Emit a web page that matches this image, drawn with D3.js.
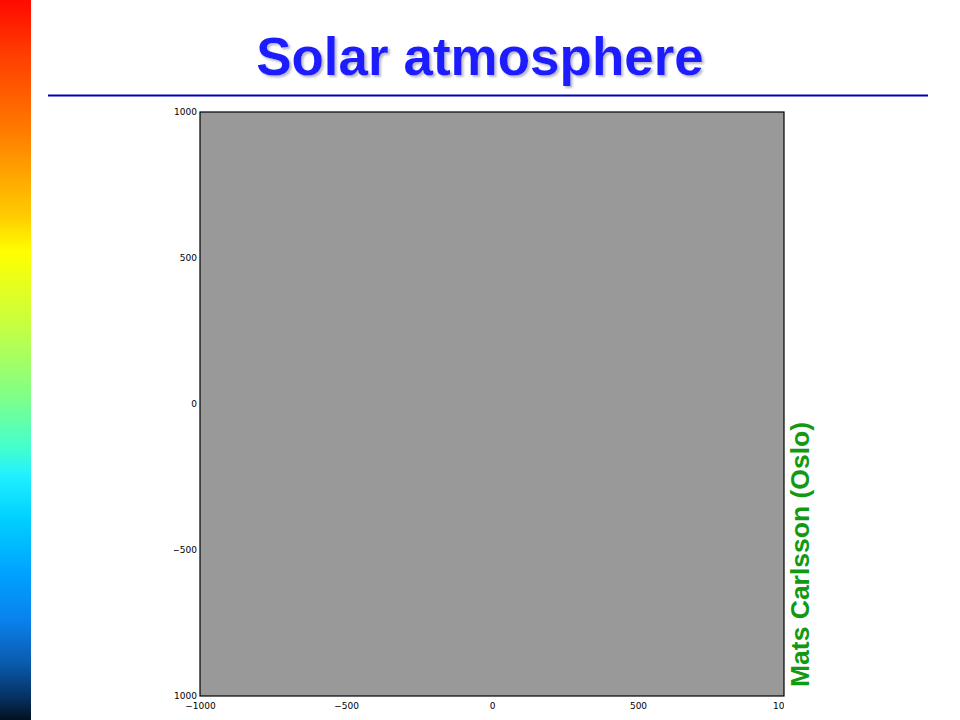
<!DOCTYPE html>
<html><head><meta charset="utf-8">
<script src="https://cdn.jsdelivr.net/npm/d3@7"></script>
<style>body{margin:0;background:#fff}svg{display:block}</style>
</head><body><svg id="c" width="960" height="720"></svg>
<script>
const title = "Solar atmosphere";
const credit = "Mats Carlsson (Oslo)";
const xDomain = [-1000, 1000];
const yDomain = [-1000, 1000];
const xTicks = [-1000, -500, 0, 500, 1000];
const yTicks = [-1000, -500, 0, 500, 1000];
const barStops = [0, 0.08, 0.18, 0.3, 0.35, 0.45, 0.55, 0.62, 0.66, 0.72, 0.8, 0.86, 0.92, 0.97, 1];
const barColors = ["#ff0a00","#ff4000","#ff7a00","#ffcc00","#ffff00","#c8ff40","#80ff88","#45ffcc","#22f0ff","#00d0ff","#00a0ff","#0a82ee","#0a5cae","#063060","#041020"];

const svg = d3.select("#c");
const defs = svg.append("defs");
const grad = defs.append("linearGradient").attr("id","bar").attr("x1",0).attr("y1",0).attr("x2",0).attr("y2",1);
barStops.forEach((s,i)=>grad.append("stop").attr("offset",s).attr("stop-color",barColors[i]));
svg.append("rect").attr("x",0).attr("y",0).attr("width",31).attr("height",720).attr("fill","url(#bar)");

const sh = defs.append("filter").attr("id","sh").attr("x","-5%").attr("y","-20%").attr("width","110%").attr("height","140%");
sh.append("feDropShadow").attr("dx",2).attr("dy",2).attr("stdDeviation",0.8).attr("flood-color","#b8b8c8").attr("flood-opacity",1);

svg.append("text").attr("x",480).attr("y",75).attr("text-anchor","middle")
  .attr("font-family","Liberation Sans, Arial, sans-serif").attr("font-weight","bold").attr("font-size",53)
  .attr("fill","#1a1aff").attr("filter","url(#sh)").text(title);
svg.append("line").attr("x1",48).attr("x2",928).attr("y1",95.5).attr("y2",95.5).attr("stroke","#0000c0").attr("stroke-width",2);

const x = d3.scaleLinear().domain(xDomain).range([200, 784]);
const y = d3.scaleLinear().domain(yDomain).range([696, 112]);

svg.append("rect").attr("x",x(xDomain[0])).attr("y",y(yDomain[1]))
  .attr("width",x(xDomain[1])-x(xDomain[0])).attr("height",y(yDomain[0])-y(yDomain[1]))
  .attr("fill","#999999").attr("stroke","#000").attr("stroke-width",1.2);

const fmt = d => (d<0?"\u2212":"")+Math.abs(d);
defs.append("clipPath").attr("id","cx").append("rect").attr("x",150).attr("y",690).attr("width",634).attr("height",30);
defs.append("clipPath").attr("id","cy").append("rect").attr("x",174).attr("y",100).attr("width",30).attr("height",600);

const xa = svg.append("g").attr("clip-path","url(#cx)").append("g").attr("transform","translate(0,696)")
  .call(d3.axisBottom(x).tickValues(xTicks).tickFormat(fmt).tickSize(0).tickPadding(7));
const ya = svg.append("g").attr("clip-path","url(#cy)").append("g").attr("transform","translate(200,0)")
  .call(d3.axisLeft(y).tickValues(yTicks).tickFormat(fmt).tickSize(0).tickPadding(3));
[xa,ya].forEach(a=>{a.select(".domain").remove();
  a.selectAll("text").attr("font-family","DejaVu Sans, sans-serif").attr("font-size",9).attr("fill","#000");});

svg.append("text").attr("transform","translate(809,687) rotate(-90)")
  .attr("font-family","Liberation Sans, Arial, sans-serif").attr("font-weight","bold").attr("font-size",26.5)
  .attr("fill","#119911").text(credit);
</script></body></html>
